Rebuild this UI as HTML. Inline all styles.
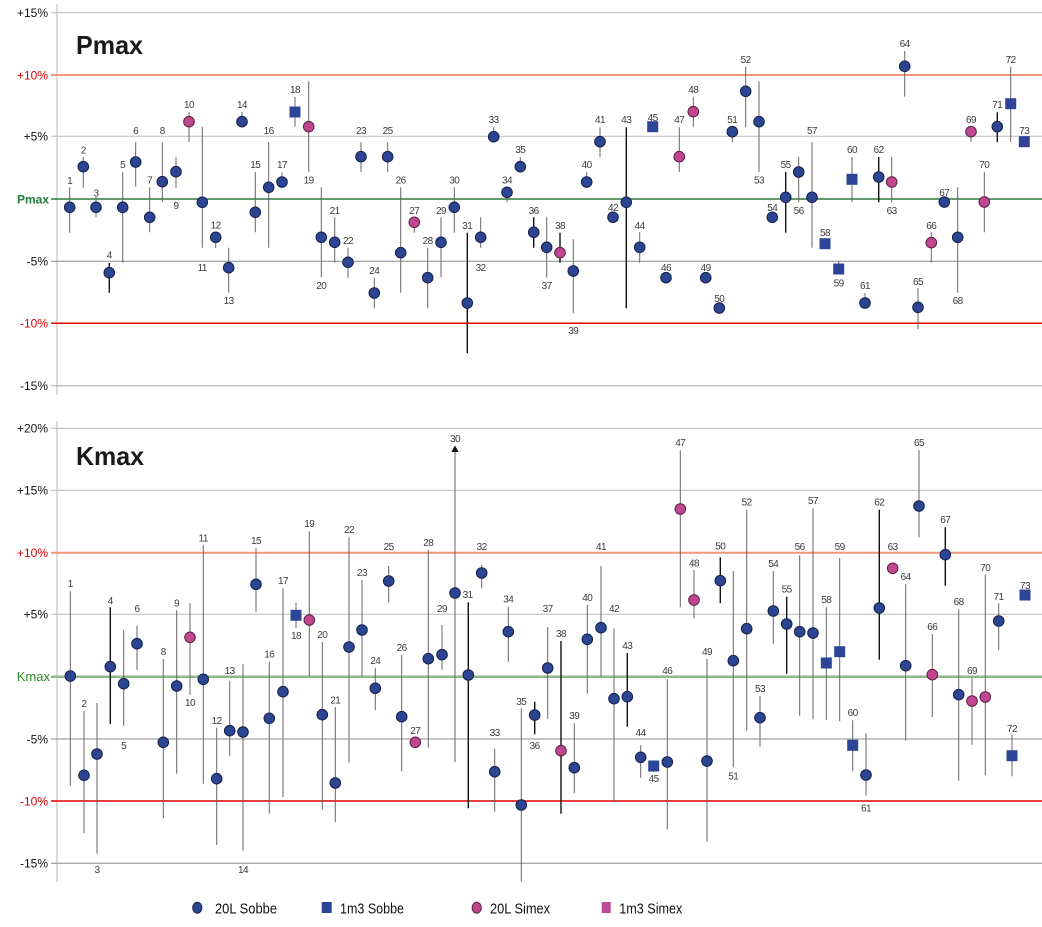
<!DOCTYPE html>
<html><head><meta charset="utf-8"><style>
html,body{margin:0;padding:0;background:#fff;}
svg{display:block;}
.ax{font-family:"Liberation Sans",sans-serif;font-size:12px;fill:#111;}
.lb{font-family:"Liberation Sans",sans-serif;font-size:10px;fill:#3a3a3a;letter-spacing:-0.5px;text-anchor:middle;}
.tt{font-family:"Liberation Sans",sans-serif;font-size:26px;font-weight:bold;fill:#1a1a1a;}
.lg{font-family:"Liberation Sans",sans-serif;font-size:15px;fill:#111;}
.b{fill:#2b4592;stroke:#16204a;stroke-width:1;}
.m{fill:#c0468f;stroke:#5a1f45;stroke-width:1;}
.s{fill:#2e4597;}
</style></head><body>
<svg width="1042" height="927" viewBox="0 0 1042 927" xmlns="http://www.w3.org/2000/svg">
<!-- TOP PANEL -->
<g>
<line x1="57" y1="4" x2="57" y2="395" stroke="#bbb" stroke-width="1"/>
<line x1="51" y1="12.7" x2="1042" y2="12.7" stroke="#bbb"/>
<line x1="51" y1="75" x2="1042" y2="75" stroke="#f0977a" stroke-width="2"/>
<line x1="51" y1="136.3" x2="1042" y2="136.3" stroke="#bbb"/>
<line x1="51" y1="199" x2="1042" y2="199" stroke="#2d7a3a" stroke-width="1.6"/>
<line x1="51" y1="261.3" x2="1042" y2="261.3" stroke="#888"/>
<line x1="51" y1="323.3" x2="1042" y2="323.3" stroke="#e00000" stroke-width="1.5"/>
<line x1="51" y1="385.7" x2="1042" y2="385.7" stroke="#aaa"/>
<text class="ax" x="48" y="17" text-anchor="end">+15%</text>
<text class="ax" x="48" y="79.3" text-anchor="end" fill="#e00000" style="fill:#e00000">+10%</text>
<text class="ax" x="48" y="140.6" text-anchor="end">+5%</text>
<text class="ax" x="49" y="203.3" text-anchor="end" style="fill:#1f7a32;font-weight:bold">Pmax</text>
<text class="ax" x="48" y="265.6" text-anchor="end">-5%</text>
<text class="ax" x="48" y="327.6" text-anchor="end" style="fill:#e00000">-10%</text>
<text class="ax" x="48" y="390" text-anchor="end">-15%</text>
<text class="tt" x="76" y="54" textLength="67" lengthAdjust="spacingAndGlyphs">Pmax</text>

<path fill="none" stroke="#666" stroke-width="1" d="M69.7 187.3V232.7 M83.3 157V187.7 M96 197V217 M122.7 172V262.7 M135.7 142.3V186.7 M149.7 187.3V232.3 M162.3 142.3V202 M176 157V187.7 M189 112.3V142.3 M202.3 126.7V247.7 M215.7 232V247.7 M228.7 247.7V292.7 M242 112V121.7 M255.3 172V232.3 M268.7 142.3V247.7 M282 172.3V187.7 M295 97V126.7 M308.7 81.3V172 M321.3 187.3V277.3 M334.7 217.3V262.7 M348 247.7V277.7 M361 142.3V172 M374.3 277.7V308.3 M387.7 142.3V172 M400.7 187.3V292.7 M414.3 222.3V232.7 M427.7 247.7V308.3 M441 217.3V277.3 M454.3 187.3V232.7 M480.7 217.3V247.7 M493.7 127.3V136.7 M507 192.3V202.3 M520.3 157.3V166.7 M546.7 217.3V277.7 M573.3 239.3V313.3 M586.7 172.3V182 M600 127.3V156.7 M639.7 232.3V262.7 M679.3 127.3V172 M693.3 97V126.7 M732.3 131.7V142.3 M745.7 66.7V127.3 M759 81.3V172 M798.7 157V202.3 M812 142.3V247.7 M838.7 261V269 M852 157V202.3 M865 293V303 M891.7 157V202.3 M904.7 51V96.7 M918 288V329.3 M931.3 232.3V262.7 M957.7 187.3V292.7 M971 131.7V142.3 M984.3 172V232.3 M1010.7 66.7V142.3"/>
<path fill="none" stroke="#111" stroke-width="1.4" d="M109.3 263V292.7 M467.3 232.7V353.3 M533.7 217.3V247.7 M560 232.7V262.7 M626.3 127.3V308.3 M785.7 172V232.7 M878.7 157V202.3 M997.3 112.3V142.3"/>

<g class="b">
<circle cx="69.7" cy="207.3" r="5.3"/><circle cx="83.3" cy="166.7" r="5.3"/><circle cx="96" cy="207.3" r="5.3"/><circle cx="109.3" cy="272.7" r="5.3"/><circle cx="122.7" cy="207.3" r="5.3"/><circle cx="135.7" cy="162" r="5.3"/><circle cx="149.7" cy="217.3" r="5.3"/><circle cx="162.3" cy="181.7" r="5.3"/><circle cx="176" cy="171.7" r="5.3"/><circle cx="202.3" cy="202.3" r="5.3"/><circle cx="215.7" cy="237.3" r="5.3"/><circle cx="228.7" cy="267.7" r="5.3"/><circle cx="242" cy="121.7" r="5.3"/><circle cx="255.3" cy="212.3" r="5.3"/><circle cx="268.7" cy="187.3" r="5.3"/><circle cx="282" cy="182" r="5.3"/><circle cx="321.3" cy="237.3" r="5.3"/><circle cx="334.7" cy="242.3" r="5.3"/><circle cx="348" cy="262.3" r="5.3"/><circle cx="361" cy="156.7" r="5.3"/><circle cx="374.3" cy="293" r="5.3"/><circle cx="387.7" cy="156.7" r="5.3"/><circle cx="400.7" cy="252.7" r="5.3"/><circle cx="427.7" cy="277.7" r="5.3"/><circle cx="441" cy="242.3" r="5.3"/><circle cx="454.3" cy="207.3" r="5.3"/><circle cx="467.3" cy="303" r="5.3"/><circle cx="480.7" cy="237.3" r="5.3"/><circle cx="493.7" cy="136.7" r="5.3"/><circle cx="507" cy="192.3" r="5.3"/><circle cx="520.3" cy="166.7" r="5.3"/><circle cx="533.7" cy="232.3" r="5.3"/><circle cx="546.7" cy="247.3" r="5.3"/><circle cx="573.3" cy="271" r="5.3"/><circle cx="586.7" cy="182" r="5.3"/><circle cx="600" cy="141.7" r="5.3"/><circle cx="613" cy="217.3" r="5.3"/><circle cx="626.3" cy="202.3" r="5.3"/><circle cx="639.7" cy="247.3" r="5.3"/><circle cx="666" cy="277.7" r="5.3"/><circle cx="705.7" cy="277.7" r="5.3"/><circle cx="719.3" cy="308" r="5.3"/><circle cx="732.3" cy="131.7" r="5.3"/><circle cx="745.7" cy="91.3" r="5.3"/><circle cx="759" cy="121.7" r="5.3"/><circle cx="772.3" cy="217.3" r="5.3"/><circle cx="785.7" cy="197.3" r="5.3"/><circle cx="798.7" cy="172" r="5.3"/><circle cx="812" cy="197.3" r="5.3"/><circle cx="865" cy="303" r="5.3"/><circle cx="878.7" cy="177" r="5.3"/><circle cx="904.7" cy="66.3" r="5.3"/><circle cx="918" cy="307.3" r="5.3"/><circle cx="944.3" cy="202" r="5.3"/><circle cx="957.7" cy="237.3" r="5.3"/><circle cx="997.3" cy="126.7" r="5.3"/>
</g>
<g class="m">
<circle cx="189" cy="121.7" r="5.3"/><circle cx="308.7" cy="126.7" r="5.3"/><circle cx="414.3" cy="222.3" r="5.3"/><circle cx="560" cy="252.7" r="5.3"/><circle cx="679.3" cy="156.7" r="5.3"/><circle cx="693.3" cy="111.7" r="5.3"/><circle cx="891.7" cy="182" r="5.3"/><circle cx="931.3" cy="242.7" r="5.3"/><circle cx="971" cy="131.7" r="5.3"/><circle cx="984.3" cy="202" r="5.3"/>
</g>
<g class="s">
<rect x="289.5" y="106.5" width="11" height="11"/><rect x="647.2" y="121.2" width="11" height="11"/><rect x="819.5" y="238.2" width="11" height="11"/><rect x="833.2" y="263.5" width="11" height="11"/><rect x="846.5" y="173.8" width="11" height="11"/><rect x="1005.2" y="98.2" width="11" height="11"/><rect x="1018.8" y="136.2" width="11" height="11"/>
</g>
<g class="lb">
<text x="69.7" y="184.2">1</text><text x="83.3" y="153.5">2</text><text x="96" y="196.5">3</text><text x="109.3" y="258.5">4</text><text x="122.7" y="168.2">5</text><text x="135.7" y="134.2">6</text><text x="149.7" y="183.5">7</text><text x="162.3" y="134.2">8</text><text x="176" y="209.2">9</text><text x="189" y="108.2">10</text><text x="202.3" y="271.2">11</text><text x="215.7" y="228.5">12</text><text x="228.7" y="304.2">13</text><text x="242" y="108.2">14</text><text x="255.3" y="168.2">15</text><text x="268.7" y="134.2">16</text><text x="282" y="168.2">17</text><text x="295" y="92.8">18</text><text x="308.7" y="183.5">19</text><text x="321.3" y="289.2">20</text><text x="334.7" y="213.8">21</text><text x="348" y="244.2">22</text><text x="361" y="134.2">23</text><text x="374.3" y="274.2">24</text><text x="387.7" y="134.2">25</text><text x="400.7" y="183.5">26</text><text x="414.3" y="213.8">27</text><text x="427.7" y="244.2">28</text><text x="441" y="213.8">29</text><text x="454.3" y="183.5">30</text><text x="467.3" y="228.8">31</text><text x="480.7" y="271.2">32</text><text x="493.7" y="123.2">33</text><text x="507" y="183.5">34</text><text x="520.3" y="153.2">35</text><text x="533.7" y="213.8">36</text><text x="546.7" y="289.2">37</text><text x="560" y="228.8">38</text><text x="573.3" y="333.8">39</text><text x="586.7" y="168.2">40</text><text x="600" y="123.2">41</text><text x="613" y="211.2">42</text><text x="626.3" y="123.2">43</text><text x="639.7" y="228.8">44</text><text x="652.7" y="120.8">45</text><text x="666" y="271.2">46</text><text x="679.3" y="123.2">47</text><text x="693.3" y="92.8">48</text><text x="705.7" y="271.2">49</text><text x="719.3" y="301.8">50</text><text x="732.3" y="123.2">51</text><text x="745.7" y="62.8">52</text><text x="759" y="183.5">53</text><text x="772.3" y="211.2">54</text><text x="785.7" y="168.2">55</text><text x="798.7" y="213.8">56</text><text x="812" y="134.2">57</text><text x="825" y="235.8">58</text><text x="838.7" y="286.5">59</text><text x="852" y="153.2">60</text><text x="865" y="289.2">61</text><text x="878.7" y="153.2">62</text><text x="891.7" y="213.8">63</text><text x="904.7" y="46.8">64</text><text x="918" y="285.2">65</text><text x="931.3" y="228.8">66</text><text x="944.3" y="196.2">67</text><text x="957.7" y="303.8">68</text><text x="971" y="123.2">69</text><text x="984.3" y="168.2">70</text><text x="997.3" y="108.2">71</text><text x="1010.7" y="62.8">72</text><text x="1024.3" y="134.2">73</text>
</g>
</g>

<!-- BOTTOM PANEL -->
<g>
<line x1="57" y1="421" x2="57" y2="882" stroke="#bbb" stroke-width="1"/>
<line x1="51" y1="428.3" x2="1042" y2="428.3" stroke="#bbb"/>
<line x1="51" y1="490.3" x2="1042" y2="490.3" stroke="#bbb"/>
<line x1="51" y1="552.7" x2="1042" y2="552.7" stroke="#f0977a" stroke-width="2"/>
<line x1="51" y1="614.3" x2="1042" y2="614.3" stroke="#bbb"/>
<line x1="51" y1="676.7" x2="1042" y2="676.7" stroke="#8fb88a" stroke-width="2.5"/>
<line x1="51" y1="739" x2="1042" y2="739" stroke="#888"/>
<line x1="51" y1="801" x2="1042" y2="801" stroke="#e00000" stroke-width="1.5"/>
<line x1="51" y1="863.3" x2="1042" y2="863.3" stroke="#888"/>
<text class="ax" x="48" y="432.6" text-anchor="end">+20%</text>
<text class="ax" x="48" y="494.6" text-anchor="end">+15%</text>
<text class="ax" x="48" y="557" text-anchor="end" style="fill:#e00000">+10%</text>
<text class="ax" x="48" y="618.6" text-anchor="end">+5%</text>
<text class="ax" x="50" y="681" text-anchor="end" style="fill:#2a8a2a;font-size:13px">Kmax</text>
<text class="ax" x="48" y="743.3" text-anchor="end">-5%</text>
<text class="ax" x="48" y="805.3" text-anchor="end" style="fill:#e00000">-10%</text>
<text class="ax" x="48" y="867.6" text-anchor="end">-15%</text>
<text class="tt" x="76" y="465" textLength="68" lengthAdjust="spacingAndGlyphs">Kmax</text>

<path fill="none" stroke="#666" stroke-width="1" d="M70.3 591V785.7 M84 711V833.3 M97 703V853.7 M123.7 630V725.7 M137 625.7V670 M163.3 659V818.3 M176.7 610.3V773.7 M190 603.3V695 M203.3 545V783.7 M216.7 727.7V845 M229.7 681V755.7 M243 664.3V850.7 M256 548.3V611.7 M269.3 661.7V813.7 M283 588.3V797 M296 603V628.3 M309.3 531.3V676 M322.3 642V809.7 M335.3 707V822.3 M349 537.3V762.7 M362 580V676.7 M375.3 667.7V710.3 M388.7 566V602.7 M401.7 655V771.3 M415.3 742.3V748.3 M428.3 549.7V747.7 M442 625V669.7 M455 450V762.3 M481.7 564.7V588.3 M494.7 748.7V811.7 M508.3 606.7V661.7 M521.3 708.3V881.7 M547.7 627V718.7 M574.3 723.3V793 M587.3 605V693.7 M601 566V676.7 M614 628.3V802.3 M640.7 745.3V777.7 M653.7 766V772 M667.3 679.3V829.3 M680.3 450.3V607.3 M694 570V618.3 M707 659V841.7 M733.3 571V767.3 M746.7 509.7V730.7 M760 696V746.7 M773.3 571V644 M799.7 555.3V715.7 M813 508.3V719.3 M826.3 607.3V720 M839.7 558V721.3 M852.7 720.3V771.3 M866 733.3V795.7 M905.7 584.3V740.7 M919 450V537.3 M932.3 634V717.3 M958.7 609.3V780.7 M972 678V744.7 M985.3 574.7V775.3 M998.7 603.3V650.3 M1012 735V776.3"/>
<path fill="none" stroke="#111" stroke-width="1.4" d="M110.3 607.3V724 M468.3 602.3V808.3 M534.7 701.7V734.3 M561 641V813.7 M627.3 653V726.7 M720.3 557.3V603.3 M786.7 596.7V673.7 M879.3 509.7V659.7 M945.3 527.3V585.7"/>
<polygon points="455,445.5 451.3,452 458.7,452" fill="#111"/>

<g class="b">
<circle cx="70.3" cy="676" r="5.3"/><circle cx="84" cy="775.3" r="5.3"/><circle cx="97" cy="754" r="5.3"/><circle cx="110.3" cy="666.7" r="5.3"/><circle cx="123.7" cy="683.7" r="5.3"/><circle cx="137" cy="643.7" r="5.3"/><circle cx="163.3" cy="742.3" r="5.3"/><circle cx="176.7" cy="686" r="5.3"/><circle cx="203.3" cy="679.3" r="5.3"/><circle cx="216.7" cy="778.7" r="5.3"/><circle cx="229.7" cy="730.7" r="5.3"/><circle cx="243" cy="732" r="5.3"/><circle cx="256" cy="584.3" r="5.3"/><circle cx="269.3" cy="718.3" r="5.3"/><circle cx="283" cy="691.7" r="5.3"/><circle cx="322.3" cy="714.7" r="5.3"/><circle cx="335.3" cy="783" r="5.3"/><circle cx="349" cy="647" r="5.3"/><circle cx="362" cy="630" r="5.3"/><circle cx="375.3" cy="688.3" r="5.3"/><circle cx="388.7" cy="581" r="5.3"/><circle cx="401.7" cy="716.7" r="5.3"/><circle cx="428.3" cy="658.7" r="5.3"/><circle cx="442" cy="654.7" r="5.3"/><circle cx="455" cy="593" r="5.3"/><circle cx="468.3" cy="675" r="5.3"/><circle cx="481.7" cy="573" r="5.3"/><circle cx="494.7" cy="771.7" r="5.3"/><circle cx="508.3" cy="631.7" r="5.3"/><circle cx="521.3" cy="805" r="5.3"/><circle cx="534.7" cy="715" r="5.3"/><circle cx="547.7" cy="668" r="5.3"/><circle cx="574.3" cy="767.7" r="5.3"/><circle cx="587.3" cy="639.3" r="5.3"/><circle cx="601" cy="627.7" r="5.3"/><circle cx="614" cy="698.7" r="5.3"/><circle cx="627.3" cy="696.7" r="5.3"/><circle cx="640.7" cy="757.3" r="5.3"/><circle cx="667.3" cy="762" r="5.3"/><circle cx="707" cy="761" r="5.3"/><circle cx="720.3" cy="580.7" r="5.3"/><circle cx="733.3" cy="660.7" r="5.3"/><circle cx="746.7" cy="628.7" r="5.3"/><circle cx="760" cy="717.7" r="5.3"/><circle cx="773.3" cy="611" r="5.3"/><circle cx="786.7" cy="624" r="5.3"/><circle cx="799.7" cy="631.7" r="5.3"/><circle cx="813" cy="633" r="5.3"/><circle cx="866" cy="775" r="5.3"/><circle cx="879.3" cy="608" r="5.3"/><circle cx="905.7" cy="665.7" r="5.3"/><circle cx="919" cy="506" r="5.3"/><circle cx="945.3" cy="554.7" r="5.3"/><circle cx="958.7" cy="694.7" r="5.3"/><circle cx="998.7" cy="621" r="5.3"/>
</g>
<g class="m">
<circle cx="190" cy="637.3" r="5.3"/><circle cx="309.3" cy="620" r="5.3"/><circle cx="415.3" cy="742.3" r="5.3"/><circle cx="561" cy="750.7" r="5.3"/><circle cx="680.3" cy="509" r="5.3"/><circle cx="694" cy="600" r="5.3"/><circle cx="892.7" cy="568.3" r="5.3"/><circle cx="932.3" cy="674.7" r="5.3"/><circle cx="972" cy="701" r="5.3"/><circle cx="985.3" cy="697" r="5.3"/>
</g>
<g class="s">
<rect x="290.5" y="609.8" width="11" height="11"/><rect x="648.2" y="760.5" width="11" height="11"/><rect x="820.8" y="657.5" width="11" height="11"/><rect x="834.2" y="646.2" width="11" height="11"/><rect x="847.2" y="739.8" width="11" height="11"/><rect x="1006.5" y="750.2" width="11" height="11"/><rect x="1019.5" y="589.5" width="11" height="11"/>
</g>
<g class="lb">
<text x="70.3" y="586.8">1</text><text x="84" y="707.2">2</text><text x="97" y="873.2">3</text><text x="110.3" y="603.8">4</text><text x="123.7" y="748.8">5</text><text x="137" y="611.8">6</text><text x="163.3" y="654.8">8</text><text x="176.7" y="606.5">9</text><text x="190" y="705.8">10</text><text x="203.3" y="541.5">11</text><text x="216.7" y="724.2">12</text><text x="229.7" y="674.2">13</text><text x="243" y="873.2">14</text><text x="256" y="544.2">15</text><text x="269.3" y="657.5">16</text><text x="283" y="584.2">17</text><text x="296" y="639.2">18</text><text x="309.3" y="527.2">19</text><text x="322.3" y="638.2">20</text><text x="335.3" y="703.5">21</text><text x="349" y="533.2">22</text><text x="362" y="575.8">23</text><text x="375.3" y="663.8">24</text><text x="388.7" y="550.2">25</text><text x="401.7" y="650.8">26</text><text x="415.3" y="733.8">27</text><text x="428.3" y="545.8">28</text><text x="442" y="611.8">29</text><text x="455" y="441.8">30</text><text x="467.7" y="597.8">31</text><text x="481.7" y="549.8">32</text><text x="494.7" y="735.8">33</text><text x="508.3" y="602.5">34</text><text x="521.3" y="704.8">35</text><text x="534.7" y="748.8">36</text><text x="547.7" y="611.8">37</text><text x="561" y="636.8">38</text><text x="574.3" y="718.8">39</text><text x="587.3" y="600.8">40</text><text x="601" y="549.8">41</text><text x="614" y="612.2">42</text><text x="627.3" y="649.2">43</text><text x="640.7" y="736.2">44</text><text x="653.7" y="781.8">45</text><text x="667.3" y="673.8">46</text><text x="680.3" y="445.8">47</text><text x="694" y="566.5">48</text><text x="707" y="654.8">49</text><text x="720.3" y="549.5">50</text><text x="733.3" y="779.5">51</text><text x="746.7" y="505.5">52</text><text x="760" y="691.8">53</text><text x="773.3" y="567.2">54</text><text x="786.7" y="592.5">55</text><text x="799.7" y="549.8">56</text><text x="813" y="503.8">57</text><text x="826.3" y="602.8">58</text><text x="839.7" y="549.8">59</text><text x="852.7" y="715.8">60</text><text x="866" y="811.5">61</text><text x="879.3" y="505.5">62</text><text x="892.7" y="549.8">63</text><text x="905.7" y="580.2">64</text><text x="919" y="445.8">65</text><text x="932.3" y="629.8">66</text><text x="945.3" y="522.8">67</text><text x="958.7" y="605.2">68</text><text x="972" y="674.2">69</text><text x="985.3" y="570.8">70</text><text x="998.7" y="599.8">71</text><text x="1012" y="732.2">72</text><text x="1025" y="589.2">73</text>
</g>
</g>

<!-- LEGEND -->
<g>
<ellipse cx="197.3" cy="907.7" rx="4.6" ry="5.5" class="b"/>
<text class="lg" x="215" y="913.3" textLength="62" lengthAdjust="spacingAndGlyphs">20L Sobbe</text>
<rect x="321.7" y="902" width="10" height="11" fill="#2e4597"/>
<text class="lg" x="340" y="913.3" textLength="64" lengthAdjust="spacingAndGlyphs">1m3 Sobbe</text>
<ellipse cx="476.7" cy="907.7" rx="4.6" ry="5.5" class="m"/>
<text class="lg" x="490" y="913.3" textLength="60" lengthAdjust="spacingAndGlyphs">20L Simex</text>
<rect x="601.7" y="902" width="9" height="11" fill="#c0489a"/>
<text class="lg" x="619.3" y="913.3" textLength="63" lengthAdjust="spacingAndGlyphs">1m3 Simex</text>
</g>
</svg>
</body></html>
